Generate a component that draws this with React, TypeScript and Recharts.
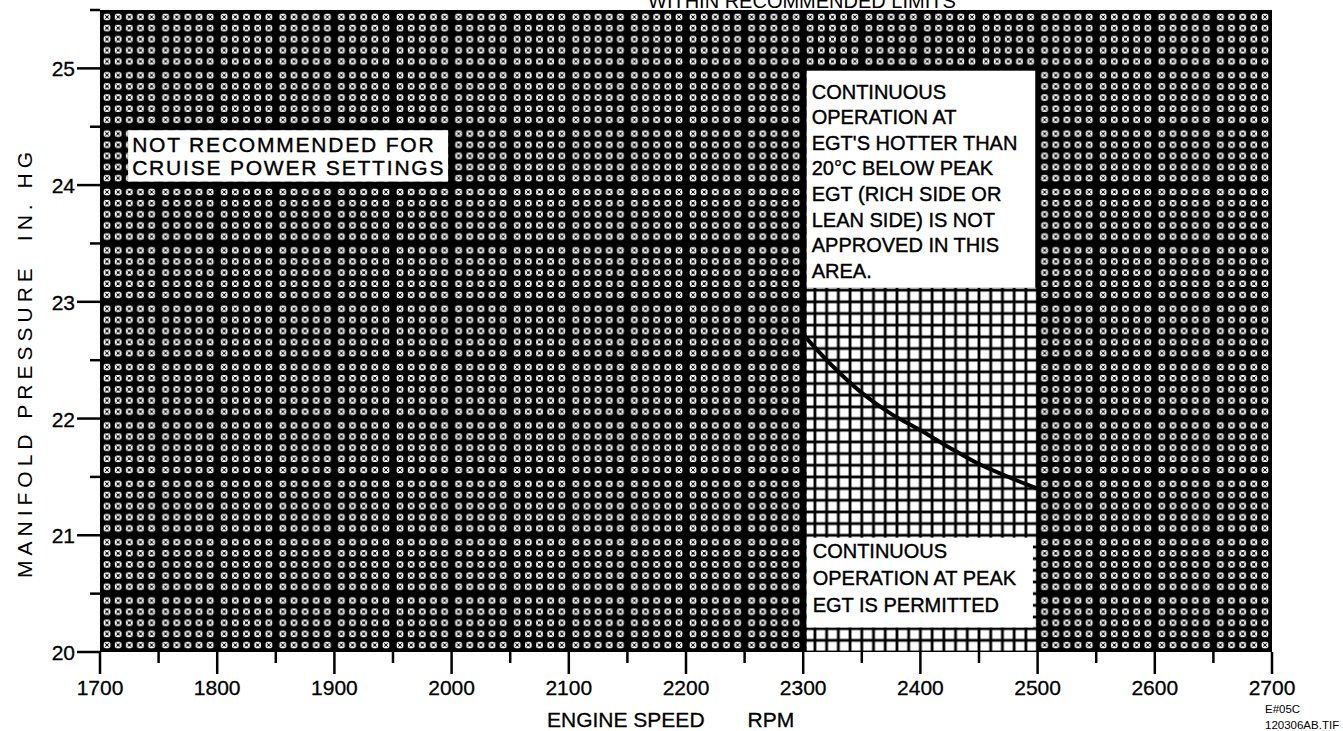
import { LineChart, Line, XAxis, YAxis, ReferenceArea, ReferenceLine } from 'recharts';

// curve: best power mixture limit between 2300 and 2500 rpm
const rpm = [2300, 2325, 2350, 2375, 2400, 2425, 2450, 2475, 2500];
const manifold = [22.72, 22.45, 22.22, 22.04, 21.9, 21.75, 21.61, 21.5, 21.4];

const xTicks = [1700, 1750, 1800, 1850, 1900, 1950, 2000, 2050, 2100, 2150, 2200, 2250, 2300, 2350, 2400, 2450, 2500, 2550, 2600, 2650, 2700];
const yTicks = [20, 20.5, 21, 21.5, 22, 22.5, 23, 23.5, 24, 24.5, 25, 25.5];
const xDomain = [1700, 2700];
const yDomain = [20, 25.5];

// regions [x1, x2, y1, y2]
const lightArea = [2303, 2499, 20, 23.12];
const cruiseBox = [1724, 1997, 24.03, 24.47];
const hotBox = [2303, 2498, 23.12, 24.98];
const peakBox = [2303, 2496, 20.21, 20.98];

const cruiseText = ['NOT RECOMMENDED FOR', 'CRUISE POWER SETTINGS'];
const hotText = ['CONTINUOUS', 'OPERATION AT', "EGT'S HOTTER THAN", '20°C BELOW PEAK', 'EGT (RICH SIDE OR', 'LEAN SIDE) IS NOT', 'APPROVED IN THIS', 'AREA.'];
const peakText = ['CONTINUOUS', 'OPERATION AT PEAK', 'EGT IS PERMITTED'];

const W = 1343;
const H = 731;
const margin = { top: 10, right: 71, left: 0, bottom: 0 };
const yAxisW = 100;
const xAxisH = 79;
const plotLeft = margin.left + yAxisW;
const plotTop = margin.top;
const plotW = W - plotLeft - margin.right;
const plotH = H - plotTop - xAxisH - margin.bottom;
const cellW = plotW / ((xDomain[1] - xDomain[0]) / 10);
const cellH = plotH / ((yDomain[1] - yDomain[0]) / 0.1);

const FONT = '"Liberation Sans", Arial, Helvetica, sans-serif';

const XTick = (props: any) => {
  const { x, y, payload } = props;
  const major = payload.value % 100 === 0;
  return (
    <g>
      <line x1={x} x2={x} y1={y} y2={y + (major ? 22 : 11)} stroke="#000" strokeWidth={2.5} />
      {major && (
        <text x={x} y={y + 43} textAnchor="middle" fontSize={21} fontFamily={FONT} fill="#000" stroke="#000" strokeWidth={0.3}>
          {payload.value}
        </text>
      )}
    </g>
  );
};

const YTick = (props: any) => {
  const { x, y, payload } = props;
  const major = payload.value % 1 === 0;
  return (
    <g>
      <line x1={x - (major ? 23 : 10)} x2={x} y1={y} y2={y} stroke="#000" strokeWidth={2.5} />
      {major && (
        <text x={x - 25} y={y + 8} textAnchor="end" fontSize={21} fontFamily={FONT} fill="#000" stroke="#000" strokeWidth={0.3}>
          {payload.value}
        </text>
      )}
    </g>
  );
};

const textBox = (lines: string[], dx: number, dy: number, step: number, size: number, spacing: number) => (p: any) => (
  <g>
    <rect x={p.x} y={p.y} width={p.width} height={p.height} fill="#fff" />
    <text fontSize={size} fontFamily={FONT} fill="#000" stroke="#000" strokeWidth={0.4} letterSpacing={spacing}>
      {lines.map((l, i) => (
        <tspan key={i} x={p.x + dx} y={p.y + dy + i * step}>
          {l}
        </tspan>
      ))}
    </text>
  </g>
);

// blob layout inside a 5x5 block so every 5th line is heavier
const blobPos = (block: number, b: number, G: number) => {
  const g = (block - 5 * b - G) / 4;
  return [0, 1, 2, 3, 4].map((i) => G / 2 + i * (b + g));
};

export default function App() {
  const data = rpm.map((r, i) => ({ rpm: r, mp: manifold[i] }));
  const bw = 6.6;
  const bh = 6.5;
  const px = blobPos(cellW * 5, bw, 7.4);
  const py = blobPos(cellH * 5, bh, 7.4);

  return (
    <div style={{ position: 'absolute', left: 0, top: 0, width: W, height: H, background: '#fff' }}>
      <LineChart width={W} height={H} data={data} margin={margin} style={{ fontFamily: FONT }}>
        <defs>
          <pattern id="dark" patternUnits="userSpaceOnUse" x={plotLeft} y={plotTop} width={cellW * 5} height={cellH * 5}>
            <rect x={0} y={0} width={cellW * 5} height={cellH * 5} fill="#000" />
            {py.map((yy, j) =>
              px.map((xx, i) => (
                <g key={`${i}-${j}`}>
                  <rect x={xx} y={yy} width={bw} height={bh} rx={2} fill="#fff" />
                  <path
                    d={`M${xx + 1.2},${yy + 1.2}L${xx + bw - 1.2},${yy + bh - 1.2}M${xx + bw - 1.2},${yy + 1.2}L${xx + 1.2},${yy + bh - 1.2}`}
                    stroke="#000"
                    strokeWidth={0.9}
                  />
                  <circle cx={xx + bw / 2} cy={yy + bh / 2} r={1.3} fill="#000" />
                </g>
              ))
            )}
          </pattern>
          <pattern id="light" patternUnits="userSpaceOnUse" x={plotLeft} y={plotTop} width={cellW} height={cellH}>
            <rect x={0} y={0} width={cellW} height={cellH} fill="#000" />
            <rect x={1.4} y={1.4} width={cellW - 2.8} height={cellH - 2.8} fill="#fff" />
          </pattern>
        </defs>

        <XAxis
          dataKey="rpm"
          type="number"
          domain={xDomain}
          ticks={xTicks}
          interval={0}
          height={xAxisH}
          axisLine={false}
          tickLine={false}
          tickSize={0}
          tickMargin={0}
          tick={XTick}
        />
        <YAxis
          type="number"
          domain={yDomain}
          ticks={yTicks}
          interval={0}
          width={yAxisW}
          axisLine={false}
          tickLine={false}
          tickSize={0}
          tickMargin={0}
          tick={YTick}
        />

        <ReferenceArea x1={xDomain[0]} x2={xDomain[1]} y1={yDomain[0]} y2={yDomain[1]} fill="url(#dark)" fillOpacity={1} />
        <ReferenceArea x1={lightArea[0]} x2={lightArea[1]} y1={lightArea[2]} y2={lightArea[3]} fill="url(#light)" fillOpacity={1} />
        <ReferenceArea
          x1={cruiseBox[0]}
          x2={cruiseBox[1]}
          y1={cruiseBox[2]}
          y2={cruiseBox[3]}
          shape={textBox(cruiseText, 4, 22, 23, 21, 1.8)}
        />
        <ReferenceArea
          x1={hotBox[0]}
          x2={hotBox[1]}
          y1={hotBox[2]}
          y2={hotBox[3]}
          shape={textBox(hotText, 5, 28, 25.6, 20, 0)}
        />
        <ReferenceArea
          x1={peakBox[0]}
          x2={peakBox[1]}
          y1={peakBox[2]}
          y2={peakBox[3]}
          shape={textBox(peakText, 6, 20, 27, 20, 0)}
        />
        <ReferenceLine x={2300} stroke="#000" strokeWidth={5} />

        <Line type="monotone" dataKey="mp" stroke="#000" strokeWidth={4} dot={false} isAnimationActive={false} />

        <text x={648} y={8} fontSize={20} fontFamily={FONT} fill="#000">
          WITHIN RECOMMENDED LIMITS
        </text>
        <text x={547} y={727} fontSize={21} fontFamily={FONT} fill="#000" stroke="#000" strokeWidth={0.3}>
          ENGINE SPEED
          <tspan dx={43}>RPM</tspan>
        </text>
        <text transform="translate(32,578) rotate(-90)" fontSize={21} fontFamily={FONT} fill="#000" letterSpacing={5}>
          MANIFOLD PRESSURE
          <tspan dx={22}>IN. HG</tspan>
        </text>
        <text x={1265} y={713} fontSize={11.5} fontFamily={FONT} fill="#000">
          E#05C
        </text>
        <text x={1265} y={729} fontSize={11.5} fontFamily={FONT} fill="#000">
          120306AB.TIF
        </text>
      </LineChart>
    </div>
  );
}
